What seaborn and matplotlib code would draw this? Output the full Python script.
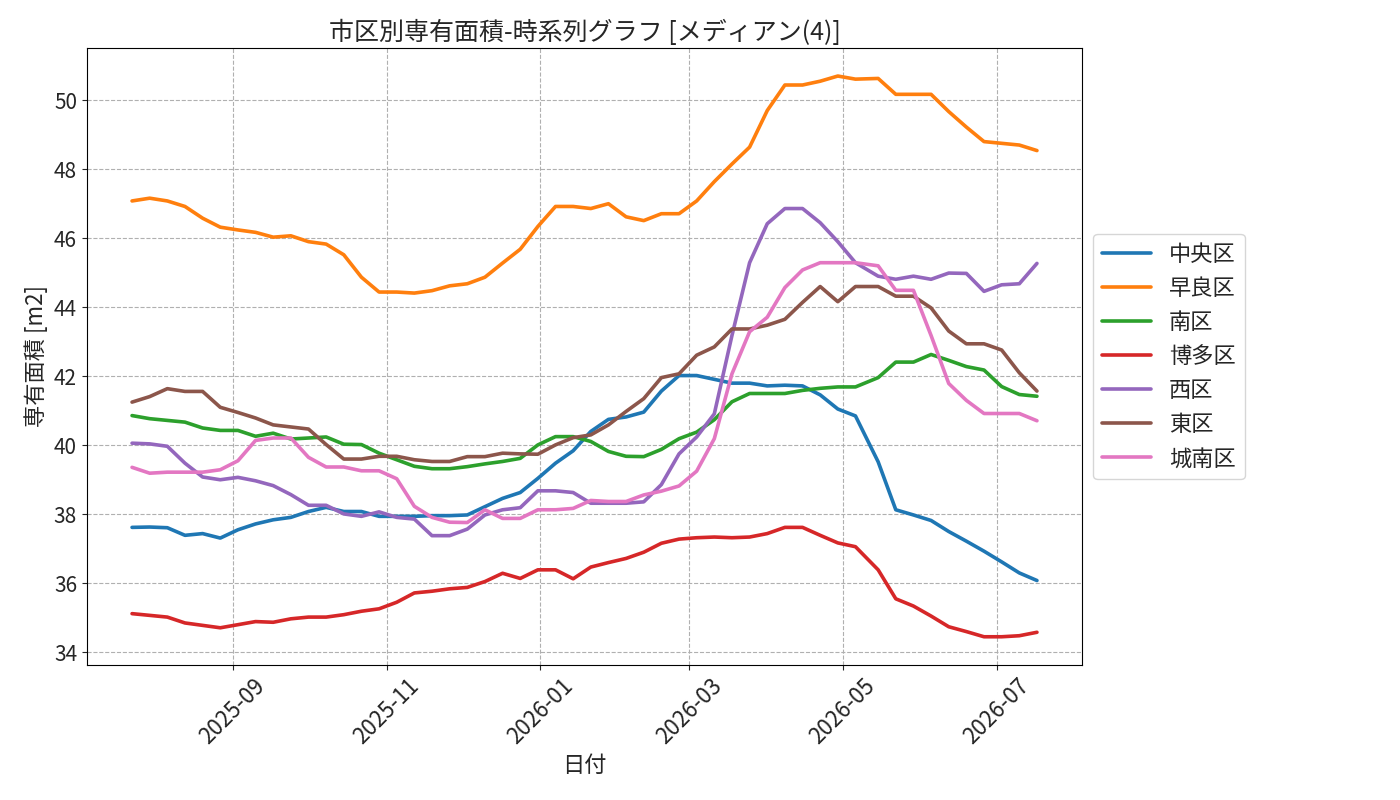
import pandas as pd
import numpy as np
import matplotlib
matplotlib.use('Agg')
import matplotlib.pyplot as plt
import matplotlib.dates as mdates
import seaborn as sns

# Dates (weekly, with one 9-day gap in May)
dates = list(pd.date_range('2025-07-23', periods=42, freq='7D')) + \
        list(pd.date_range('2026-05-15', periods=10, freq='7D'))

wards = ['中央区', '早良区', '南区', '博多区', '西区', '東区', '城南区']

chuo = [37.62, 37.63, 37.61, 37.39, 37.44, 37.31, 37.55, 37.72, 37.84, 37.91,
        38.08, 38.20, 38.08, 38.08, 37.94, 37.94, 37.94, 37.96, 37.96, 37.98,
        38.22, 38.46, 38.63, 39.04, 39.48, 39.84, 40.40, 40.75, 40.82, 40.96,
        41.57, 42.02, 42.02, 41.91, 41.80, 41.80, 41.72, 41.74, 41.72, 41.46,
        41.05, 40.85, 39.52, 38.13, 37.98, 37.82, 37.50, 37.22, 36.93, 36.62,
        36.30, 36.08]
sawara = [47.08, 47.16, 47.08, 46.92, 46.58, 46.32, 46.24, 46.17, 46.03, 46.07,
          45.90, 45.83, 45.52, 44.87, 44.44, 44.44, 44.41, 44.48, 44.62, 44.68,
          44.87, 45.28, 45.68, 46.34, 46.92, 46.92, 46.86, 47.00, 46.62, 46.51,
          46.71, 46.71, 47.08, 47.64, 48.15, 48.64, 49.70, 50.44, 50.44, 50.55,
          50.70, 50.61, 50.63, 50.17, 50.17, 50.17, 49.67, 49.22, 48.80, 48.75,
          48.70, 48.54]
minami = [40.86, 40.77, 40.72, 40.67, 40.50, 40.43, 40.43, 40.26, 40.35, 40.18,
          40.21, 40.24, 40.03, 40.02, 39.77, 39.58, 39.39, 39.32, 39.32, 39.38,
          39.46, 39.53, 39.62, 40.01, 40.25, 40.25, 40.11, 39.82, 39.68, 39.67,
          39.88, 40.19, 40.38, 40.74, 41.26, 41.50, 41.50, 41.50, 41.59, 41.65,
          41.69, 41.69, 41.96, 42.41, 42.41, 42.63, 42.46, 42.28, 42.18, 41.70,
          41.47, 41.42]
hakata = [35.12, 35.07, 35.02, 34.85, 34.78, 34.71, 34.80, 34.89, 34.87, 34.97,
          35.02, 35.02, 35.09, 35.19, 35.26, 35.45, 35.72, 35.77, 35.84, 35.88,
          36.05, 36.29, 36.14, 36.39, 36.39, 36.13, 36.47, 36.60, 36.72, 36.90,
          37.16, 37.28, 37.32, 37.34, 37.32, 37.34, 37.44, 37.62, 37.62, 37.39,
          37.17, 37.06, 36.39, 35.55, 35.34, 35.05, 34.74, 34.60, 34.45, 34.45,
          34.48, 34.58]
nishi = [40.06, 40.04, 39.97, 39.48, 39.08, 39.00, 39.07, 38.97, 38.83, 38.57,
         38.26, 38.26, 38.01, 37.94, 38.07, 37.91, 37.86, 37.38, 37.38, 37.57,
         37.98, 38.13, 38.19, 38.68, 38.68, 38.63, 38.32, 38.32, 38.32, 38.36,
         38.86, 39.75, 40.24, 40.91, 43.18, 45.29, 46.42, 46.86, 46.86, 46.45,
         45.90, 45.29, 44.90, 44.81, 44.90, 44.81, 44.99, 44.98, 44.46, 44.65,
         44.68, 45.27]
higashi = [41.25, 41.41, 41.64, 41.56, 41.56, 41.10, 40.95, 40.79, 40.59, 40.53,
           40.47, 40.02, 39.60, 39.60, 39.68, 39.68, 39.58, 39.53, 39.53, 39.67,
           39.67, 39.77, 39.75, 39.74, 40.01, 40.22, 40.30, 40.59, 40.98, 41.35,
           41.96, 42.07, 42.61, 42.85, 43.37, 43.37, 43.48, 43.65, 44.14, 44.60,
           44.16, 44.60, 44.60, 44.32, 44.32, 43.98, 43.31, 42.94, 42.94, 42.76,
           42.10, 41.57]
jonan = [39.36, 39.19, 39.22, 39.22, 39.22, 39.29, 39.55, 40.14, 40.21, 40.21,
         39.65, 39.37, 39.37, 39.26, 39.26, 39.03, 38.23, 37.91, 37.77, 37.76,
         38.13, 37.88, 37.88, 38.13, 38.13, 38.17, 38.40, 38.37, 38.37, 38.56,
         38.67, 38.82, 39.25, 40.19, 42.07, 43.29, 43.71, 44.57, 45.08, 45.29,
         45.29, 45.29, 45.20, 44.49, 44.49, 43.18, 41.79, 41.30, 40.92, 40.92,
         40.92, 40.71]

series = [chuo, sawara, minami, hakata, nishi, higashi, jonan]

# Long-form table
df = pd.concat([pd.DataFrame({'日付': dates, '専有面積': vals, '区': w})
                for w, vals in zip(wards, series)], ignore_index=True)

sns.set_style('ticks')
plt.rcParams['font.family'] = ['Noto Sans CJK JP', 'DejaVu Sans']

fig = plt.figure(figsize=(14, 8), dpi=100)
ax = fig.add_axes([0.062, 0.169, 0.711, 0.771])

sns.lineplot(data=df, x='日付', y='専有面積', hue='区', hue_order=wards,
             palette=sns.color_palette('tab10', 7), linewidth=2.6, ax=ax)

ax.set_title('市区別専有面積-時系列グラフ [メディアン(4)]', fontsize=18)
ax.set_xlabel('日付', fontsize=16)
ax.set_ylabel('専有面積 [m2]', fontsize=16)

ax.xaxis.set_major_locator(mdates.MonthLocator(bymonth=[1, 3, 5, 7, 9, 11]))
ax.xaxis.set_major_formatter(mdates.DateFormatter('%Y-%m'))
ax.set_yticks(np.arange(34, 51, 2))
ax.tick_params(axis='y', labelsize=15)
ax.tick_params(axis='x', labelsize=16)
plt.setp(ax.get_xticklabels(), rotation=45, ha='center', rotation_mode='default')

ax.grid(True, linestyle='--', color='#b0b0b0', linewidth=0.8)
for s in ax.spines.values():
    s.set_visible(True)
    s.set_color('black')

ax.legend(loc='center left', bbox_to_anchor=(1.0, 0.5), fontsize=16,
          handlelength=2.2, title=None)

plt.savefig('out.png', dpi=100)
